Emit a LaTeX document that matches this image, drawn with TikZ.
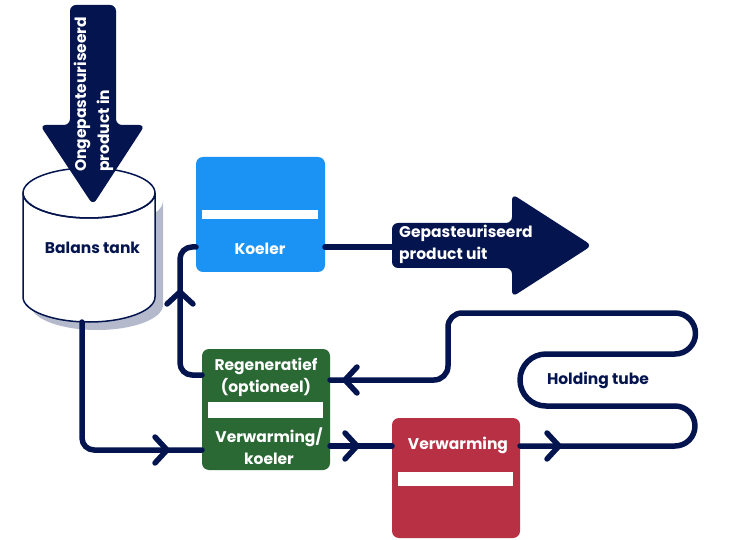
\documentclass[tikz,border=0pt]{standalone}
\usepackage{fontspec}
\setmainfont{Poppins}
\usetikzlibrary{calc}
\definecolor{navy}{RGB}{4,20,78}
\definecolor{kblue}{RGB}{27,147,245}
\definecolor{kgreen}{RGB}{42,104,52}
\definecolor{kred}{RGB}{183,48,68}
\definecolor{kshadow}{RGB}{180,185,204}
\tikzset{
  box/.style={rectangle, rounded corners=7pt, inner sep=0pt, draw=none},
  whitebar/.style={rectangle, fill=white, inner sep=0pt, draw=none},
  lbl/.style={text=white, inner sep=0pt, align=center, font=\bfseries\fontsize{15.5}{21.5}\selectfont},
  navylbl/.style={text=navy, inner sep=0pt, align=center, font=\bfseries\fontsize{15.5}{21.5}\selectfont},
  pipe/.style={draw=navy, line width=5.5pt, line cap=round, line join=round},
  chev/.pic={\draw[navy, line width=5.5pt, line cap=round, line join=round] (-12,-13) -- (0,0) -- (-12,13);}
}
\begin{document}
\begin{tikzpicture}[x=1pt,y=1pt,yscale=-1]
\useasboundingbox (0,0) rectangle (750,540);
\fill[white] (0,0) rectangle (750,540);

% tank
\fill[kshadow] (31,201) -- (31,305) arc (180:0:66 and 25) -- (163,201) arc (0:180:66 and 25) -- cycle;
\draw[navy, line width=1.5pt, fill=white] (23,193) -- (23,297) arc (180:0:66 and 25) -- (155,193) arc (0:180:66 and 25) -- cycle;
\draw[navy, line width=1.5pt] (89,193) ellipse (66 and 25);
\node[navylbl] (tank) at (92.5,248) {Balans tank};
\coordinate (tankout) at (82,322);

% in arrow
\fill[navy, rounded corners=6pt] (70,5) -- (116,5) -- (116,125) -- (145,125) -- (93,205) -- (40,125) -- (70,125) -- cycle;
\node[lbl, rotate=90, anchor=west, align=left, font=\bfseries\fontsize{15.5}{23}\selectfont] (intxt) at (93.5,172) {Ongepasteuriseerd\\product in};

% Koeler
\node[box, fill=kblue, minimum width=129pt, minimum height=115pt] (koeler) at (260.5,214.5) {};
\node[whitebar, minimum width=116pt, minimum height=9pt] (kbar) at (260,214.5) {};
\node[lbl] (ktxt) at (260,249) {Koeler};
\coordinate (kin) at (196,247);
\coordinate (kout) at (325,247);

% out arrow
\fill[navy, rounded corners=6pt] (392,223) -- (512,223) -- (512,194) -- (592,245.5) -- (512,297) -- (512,268) -- (392,268) -- cycle;
\node[lbl, align=left, anchor=west] (outtxt) at (399,244.5) {Gepasteuriseerd\\product uit};
\coordinate (outin) at (394,247);

% Regeneratief
\node[box, fill=kgreen, minimum width=128pt, minimum height=121pt] (regen) at (266,409.5) {};
\node[whitebar, minimum width=115pt, minimum height=16pt] (rbar) at (265.5,410) {};
\node[lbl] (rtxt1) at (266,377.5) {Regeneratief\\(optioneel)};
\node[lbl] (rtxt2) at (269,446) {Verwarming/\\koeler};
\coordinate (rwin) at (202,450);
\coordinate (rwout) at (202,375);
\coordinate (reout) at (330,446);
\coordinate (rein) at (330,380);

% Verwarming
\node[box, fill=kred, minimum width=128pt, minimum height=120pt] (verw) at (456,478) {};
\node[whitebar, minimum width=115pt, minimum height=14pt] (vbar) at (455.5,479) {};
\node[lbl] (vtxt) at (458,445) {Verwarming};
\coordinate (vin) at (392,446);
\coordinate (vout) at (520,446);

% connectors
\draw[pipe] (kout) -- (outin);
\draw[pipe, rounded corners=12pt] (rwout) -- (180,375) -- (180,247) -- (kin);
\draw[pipe, rounded corners=12pt] (tankout) -- (82,450) -- (rwin);
\draw[pipe] (reout) -- (vin);
\draw[pipe] (vout) -- (675,446) arc (90:-90:20) -- (546,406) arc (90:270:26) -- (675,354) arc (90:-90:20.5)
  [rounded corners=14pt] -- (448,313) -- (448,380) -- (rein);

% chevrons
\pic[rotate=90] at (180,292) {chev};
\pic at (167,450) {chev};
\pic at (357,446) {chev};
\pic at (559,446) {chev};
\pic[rotate=180] at (345,380) {chev};

\node[navylbl] (htxt) at (598,380) {Holding tube};
\end{tikzpicture}
\end{document}
